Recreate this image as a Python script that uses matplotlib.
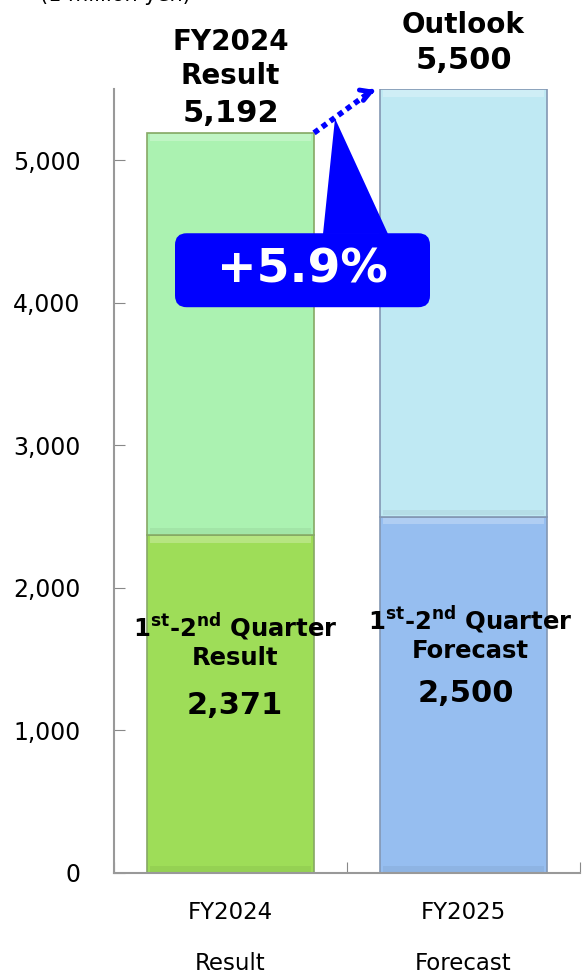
import numpy as np
import matplotlib
matplotlib.use('Agg')
import matplotlib.pyplot as plt
from matplotlib.patches import FancyBboxPatch, Polygon

plt.rcParams['font.family'] = ['DejaVu Sans']
plt.rcParams['mathtext.fontset'] = 'dejavusans'

# data (1 million yen)
categories = ['FY2024\nResult', 'FY2025\nForecast']
first_half = [2371, 2500]
full_year = [5192, 5500]
second_half = [t - h for t, h in zip(full_year, first_half)]
yticks = [0, 1000, 2000, 3000, 4000, 5000]

lower_colors = ['#9edd58', '#96bef0']
upper_colors = ['#abf2b1', '#bfe9f3']
edge_colors = ['#86a865', '#8397b3']

fig = plt.figure(figsize=(5.82, 9.77), dpi=100)
ax = fig.add_axes([114 / 582, 104 / 977, 466 / 582, 784 / 977])

x = np.arange(len(categories))
width = 0.717
ax.bar(x, first_half, width, color=lower_colors, edgecolor=edge_colors, lw=1.2, zorder=2)
ax.bar(x, second_half, width, bottom=first_half, color=upper_colors,
       edgecolor=edge_colors, lw=1.2, zorder=2)
# soft bevel: light strip at top of each segment, darker strip at bottom
for i in range(len(x)):
    for bot, h in ((0, first_half[i]), (first_half[i], second_half[i])):
        ax.bar(x[i], 45, width * 0.96, bottom=bot + h - 55, color='white',
               alpha=0.25, lw=0, zorder=3)
        ax.bar(x[i], 40, width * 0.96, bottom=bot + 10, color='black',
               alpha=0.05, lw=0, zorder=3)

ax.set_xlim(-0.5, 1.5)
ax.set_ylim(0, 5500)
ax.set_yticks(yticks)
ax.set_yticklabels([f'{v:,}' for v in yticks])
ax.tick_params(axis='y', direction='in', length=8, color='#888888', pad=24, labelsize=17)
ax.set_xticks([-0.5, 0.5, 1.5])
ax.set_xticklabels([])
ax.tick_params(axis='x', which='major', direction='in', length=8, color='#888888')
ax.set_xticks(x, minor=True)
ax.set_xticklabels(categories, minor=True, fontsize=16.5, linespacing=2.55)
ax.tick_params(axis='x', which='minor', length=0, pad=20)
for s in ('top', 'right'):
    ax.spines[s].set_visible(False)
for s in ('left', 'bottom'):
    ax.spines[s].set_color('#999999')
    ax.spines[s].set_linewidth(1.5)

fig.text(115 / 582, 1.005, '(1 million yen)', ha='center', va='center', fontsize=15)

# totals above bars
ax.text(x[0], 5827, 'FY2024', ha='center', va='center', fontsize=20, fontweight='bold')
ax.text(x[0], 5589, 'Result', ha='center', va='center', fontsize=20, fontweight='bold')
ax.text(x[0], 5330, f'{full_year[0]:,}', ha='center', va='center', fontsize=22, fontweight='bold')
ax.text(x[1], 5947, 'Outlook', ha='center', va='center', fontsize=20, fontweight='bold')
ax.text(x[1], 5701, f'{full_year[1]:,}', ha='center', va='center', fontsize=22, fontweight='bold')

# first half labels inside bars
q_label = r'1$^{\mathbf{st}}$-2$^{\mathbf{nd}}$ Quarter'
ax.text(x[0] + 0.02, 1725, q_label, ha='center', va='center', fontsize=17.5, fontweight='bold', zorder=5)
ax.text(x[0] + 0.02, 1508, 'Result', ha='center', va='center', fontsize=17.5, fontweight='bold', zorder=5)
ax.text(x[0] + 0.02, 1178, f'{first_half[0]:,}', ha='center', va='center', fontsize=22, fontweight='bold', zorder=5)
ax.text(x[1] + 0.03, 1774, q_label, ha='center', va='center', fontsize=17.5, fontweight='bold', zorder=5)
ax.text(x[1] + 0.03, 1557, 'Forecast', ha='center', va='center', fontsize=17.5, fontweight='bold', zorder=5)
ax.text(x[1] + 0.01, 1262, f'{first_half[1]:,}', ha='center', va='center', fontsize=22, fontweight='bold', zorder=5)

# dotted growth arrow between bar tops
x0, y0 = x[0] + width / 2, full_year[0]
x1, y1 = x[1] - width / 2 - 0.01, full_year[1]
ax.plot([x0, x1 - 0.03], [y0, y1 - 18], color='#0000ff', lw=4, ls=(0, (1, 0.8)),
        solid_capstyle='butt', dash_capstyle='butt', zorder=6, clip_on=False)
ax.annotate('', xy=(x1, y1), xytext=(x1 - 0.04, y1 - 25),
            arrowprops=dict(arrowstyle='->,head_length=0.7,head_width=0.4', color='#0000ff', lw=3.5),
            zorder=6, annotation_clip=False)

# callout with growth rate
growth = (full_year[1] / full_year[0] - 1) * 100
px2x = 1 / 233
px2y = 5000 / (873 - 160)
bx0, by0 = (175 - 114) * px2x - 0.5, (873 - 307) * px2y
bw, bh = 255 * px2x, 74 * px2y
box = FancyBboxPatch((bx0, by0), bw, bh, boxstyle='round,pad=0,rounding_size=0.05',
                     mutation_aspect=px2y / px2x, fc='#0000ff', ec='none', zorder=7)
ax.add_patch(box)
apex_x = x0 + (x1 - x0) * 0.33
apex_y = y0 + (y1 - y0) * 0.33
ax.add_patch(Polygon([[(323 - 114) * px2x - 0.5, by0 + bh - 5],
                      [(388 - 114) * px2x - 0.5, by0 + bh - 5],
                      [apex_x, apex_y]], closed=True, fc='#0000ff', ec='none', zorder=7))
ax.text(bx0 + bw / 2, by0 + bh / 2, f'+{growth:.1f}%', ha='center', va='center',
        fontsize=34, fontweight='bold', color='white', zorder=8)

fig.savefig('out.png', dpi=100)
